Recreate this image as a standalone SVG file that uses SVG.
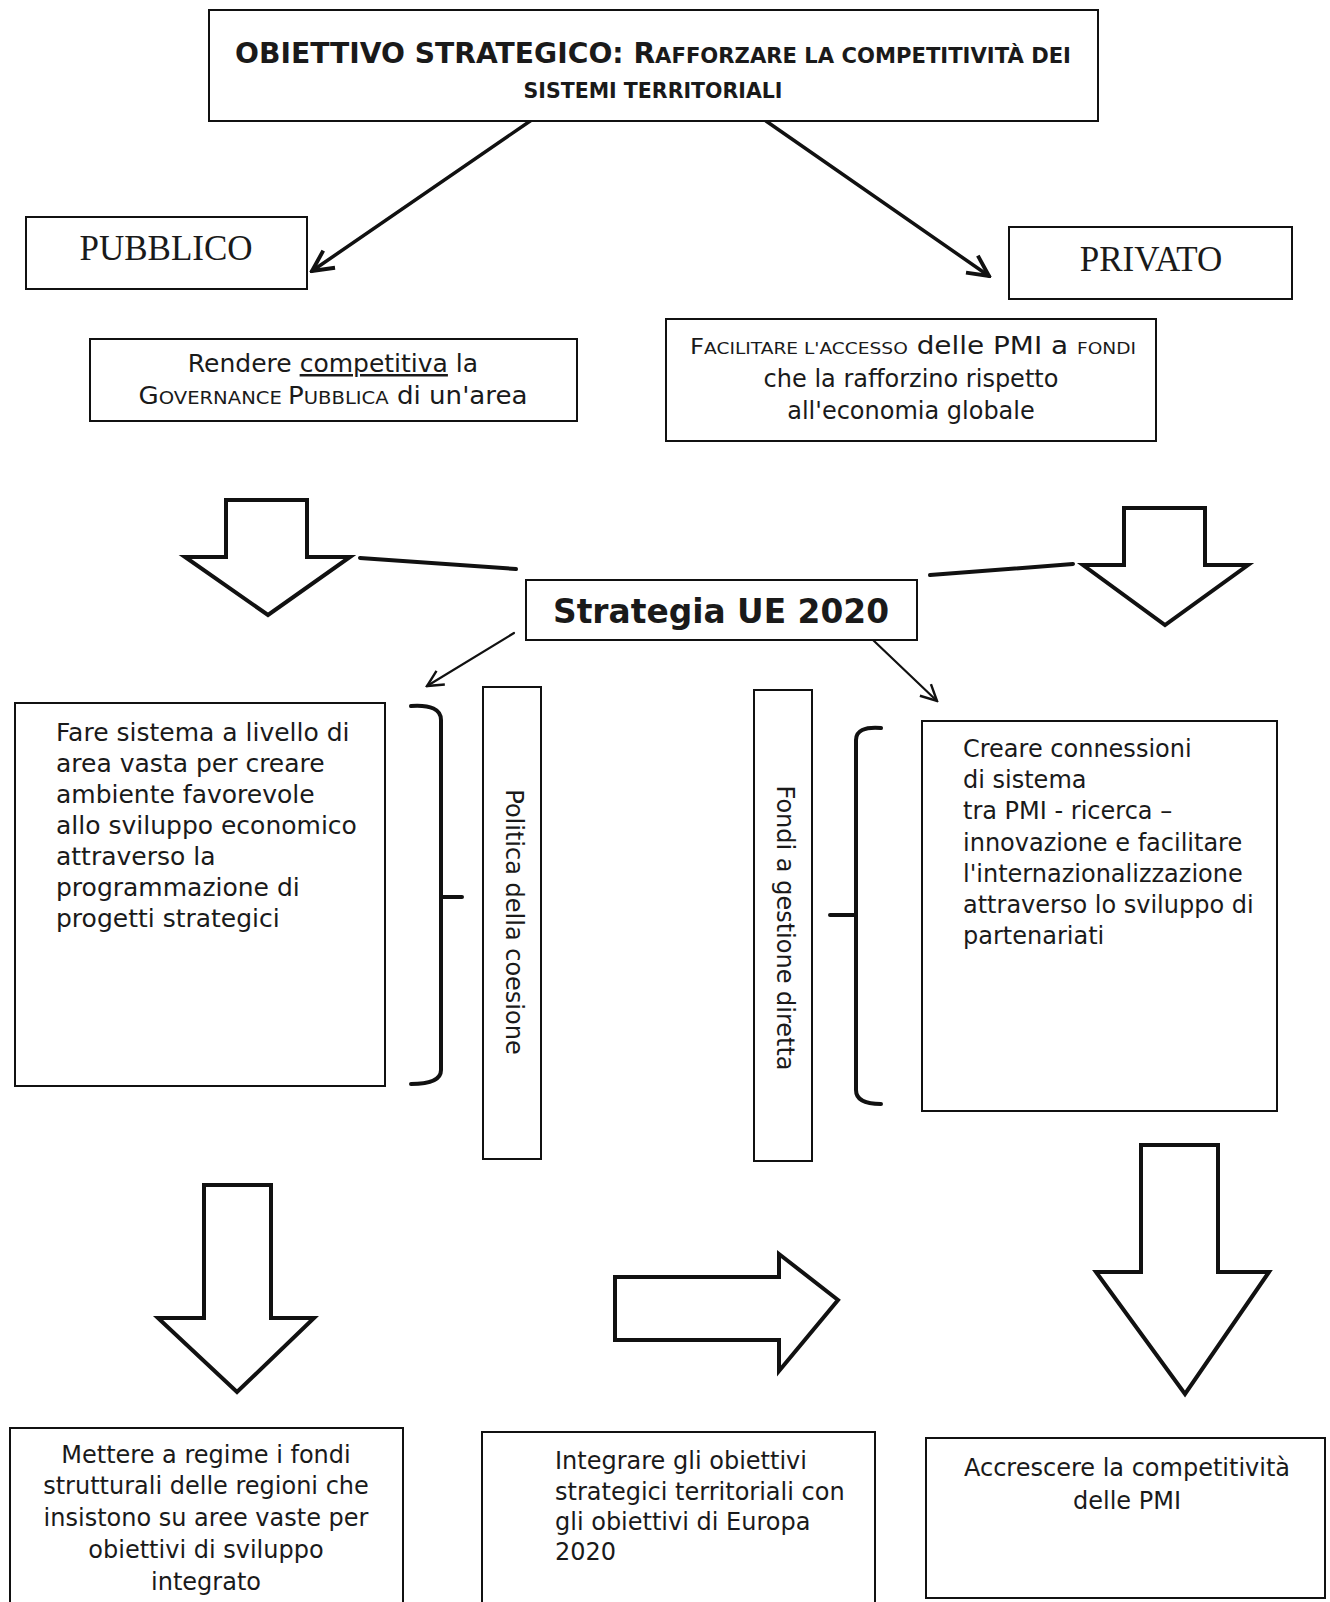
<svg xmlns="http://www.w3.org/2000/svg" width="1330" height="1602" viewBox="0 0 1330 1602">
<style>
.box{fill:#fff;stroke:#111;stroke-width:2}
.big{fill:#fff;stroke:#111;stroke-width:4;stroke-linejoin:miter}
.t{font-family:"DejaVu Sans","Liberation Sans",sans-serif;font-size:24px;fill:#1a1a1a}
.t25{font-size:25px}
.c{text-anchor:middle}
.serif{font-family:"Liberation Serif","Times New Roman",serif;font-size:35px;fill:#1a1a1a;text-anchor:middle}
.b{font-family:"DejaVu Sans","Liberation Sans",sans-serif;font-weight:bold;fill:#1a1a1a;text-anchor:middle}
.conn{fill:none;stroke:#111;stroke-linecap:round}
</style>
<defs>
<marker id="chevL" viewBox="0 0 20 20" refX="18" refY="10" markerWidth="26" markerHeight="26" markerUnits="userSpaceOnUse" orient="auto">
<path d="M2,2 L18,10 L2,18" fill="none" stroke="#111" stroke-width="3"/>
</marker>
<marker id="chevS" viewBox="0 0 20 20" refX="18" refY="10" markerWidth="20" markerHeight="20" markerUnits="userSpaceOnUse" orient="auto">
<path d="M2,2 L18,10 L2,18" fill="none" stroke="#111" stroke-width="2.4"/>
</marker>
</defs>
<rect width="1330" height="1602" fill="#fff"/>

<g id="connectors">
<line class="conn" x1="536" y1="117" x2="312" y2="271" stroke-width="3.5" marker-end="url(#chevL)"/>
<line class="conn" x1="766" y1="121" x2="989" y2="276" stroke-width="3.5" marker-end="url(#chevL)"/>
<line class="conn" x1="360" y1="558" x2="516" y2="569" stroke-width="4"/>
<line class="conn" x1="930" y1="575" x2="1073" y2="564" stroke-width="4"/>
<line class="conn" x1="514" y1="633" x2="427" y2="686" stroke-width="2.2" marker-end="url(#chevS)"/>
<line class="conn" x1="873" y1="640" x2="937" y2="701" stroke-width="2.2" marker-end="url(#chevS)"/>
<path class="conn" d="M411,706 Q441,704 441,720 L441,1070 Q441,1084 411,1084 M441,897 L462,897" stroke-width="4"/>
<path class="conn" d="M881,728 Q856,726 856,740 L856,1090 Q856,1104 881,1104 M856,915 L830,915" stroke-width="4"/>
<polygon class="big" points="226,500 307,500 307,557 350,557 268,615 185,557 226,557"/>
<polygon class="big" points="1124,508 1205,508 1205,565 1248,565 1165,625 1083,565 1124,565"/>
<polygon class="big" points="204,1185 271,1185 271,1318 314,1318 237,1392 158,1318 204,1318"/>
<polygon class="big" points="615,1277 779,1277 779,1254 838,1300 779,1371 779,1340 615,1340"/>
<polygon class="big" points="1141,1145 1218,1145 1218,1272 1269,1272 1185,1394 1096,1272 1141,1272"/>
</g>

<g id="obiettivo">
<rect class="box" x="209" y="10" width="889" height="111"/>
<text class="b" x="653" y="63" textLength="836" lengthAdjust="spacingAndGlyphs"><tspan font-size="28">OBIETTIVO STRATEGICO: R</tspan><tspan font-size="21">AFFORZARE LA COMPETITIVITÀ DEI</tspan></text>
<text class="b" x="653" y="98" font-size="21" textLength="259" lengthAdjust="spacingAndGlyphs">SISTEMI TERRITORIALI</text>
</g>

<g id="pubblico">
<rect class="box" x="26" y="217" width="281" height="72"/>
<text class="serif" x="166" y="260">PUBBLICO</text>
</g>

<g id="privato">
<rect class="box" x="1009" y="227" width="283" height="72"/>
<text class="serif" x="1151" y="271">PRIVATO</text>
</g>

<g id="rendere">
<rect class="box" x="90" y="339" width="487" height="82"/>
<text class="t t25 c" x="333" y="372">Rendere <tspan text-decoration="underline">competitiva</tspan> la</text>
<text class="t c" x="333" y="404" textLength="389" lengthAdjust="spacingAndGlyphs"><tspan>G</tspan><tspan font-size="18">OVERNANCE </tspan><tspan>P</tspan><tspan font-size="18">UBBLICA</tspan> di un'area</text>
</g>

<g id="facilitare">
<rect class="box" x="666" y="319" width="490" height="122"/>
<text class="t c" x="913" y="354" textLength="446" lengthAdjust="spacingAndGlyphs"><tspan font-size="21">F</tspan><tspan font-size="16">ACILITARE L'ACCESSO</tspan> delle PMI a <tspan font-size="16">FONDI</tspan></text>
<text class="t c" x="911" y="387">che la rafforzino rispetto</text>
<text class="t c" x="911" y="419">all'economia globale</text>
</g>

<g id="strategia">
<rect class="box" x="526" y="580" width="391" height="60"/>
<text class="b" x="721" y="623" font-size="33" textLength="336" lengthAdjust="spacingAndGlyphs">Strategia UE 2020</text>
</g>

<g id="fare-sistema">
<rect class="box" x="15" y="703" width="370" height="383"/>
<text class="t t25" x="56" y="741">Fare sistema a livello di</text>
<text class="t t25" x="56" y="772">area vasta per creare</text>
<text class="t t25" x="56" y="803">ambiente favorevole</text>
<text class="t t25" x="56" y="834">allo sviluppo economico</text>
<text class="t t25" x="56" y="865">attraverso la</text>
<text class="t t25" x="56" y="896">programmazione di</text>
<text class="t t25" x="56" y="927">progetti strategici</text>
</g>

<g id="politica">
<rect class="box" x="483" y="687" width="58" height="472"/>
<text class="t c" transform="translate(506,922) rotate(90)">Politica della coesione</text>
</g>

<g id="fondi">
<rect class="box" x="754" y="690" width="58" height="471"/>
<text class="t c" transform="translate(777,928) rotate(90)">Fondi a gestione diretta</text>
</g>

<g id="creare">
<rect class="box" x="922" y="721" width="355" height="390"/>
<text class="t" x="963" y="757">Creare connessioni</text>
<text class="t" x="963" y="788">di sistema</text>
<text class="t" x="963" y="819">tra PMI - ricerca –</text>
<text class="t" x="963" y="851">innovazione e facilitare</text>
<text class="t" x="963" y="882">l'internazionalizzazione</text>
<text class="t" x="963" y="913">attraverso lo sviluppo di</text>
<text class="t" x="963" y="944">partenariati</text>
</g>

<g id="mettere">
<rect class="box" x="10" y="1428" width="393" height="200"/>
<text class="t c" x="206" y="1463">Mettere a regime i fondi</text>
<text class="t c" x="206" y="1494">strutturali delle regioni che</text>
<text class="t c" x="206" y="1526">insistono su aree vaste per</text>
<text class="t c" x="206" y="1558">obiettivi di sviluppo</text>
<text class="t c" x="206" y="1590">integrato</text>
</g>

<g id="integrare">
<rect class="box" x="482" y="1432" width="393" height="200"/>
<text class="t" x="555" y="1469">Integrare gli obiettivi</text>
<text class="t" x="555" y="1500">strategici territoriali con</text>
<text class="t" x="555" y="1530">gli obiettivi di Europa</text>
<text class="t" x="555" y="1560">2020</text>
</g>

<g id="accrescere">
<rect class="box" x="926" y="1438" width="399" height="160"/>
<text class="t c" x="1127" y="1476">Accrescere la competitività</text>
<text class="t c" x="1127" y="1509">delle PMI</text>
</g>
</svg>
